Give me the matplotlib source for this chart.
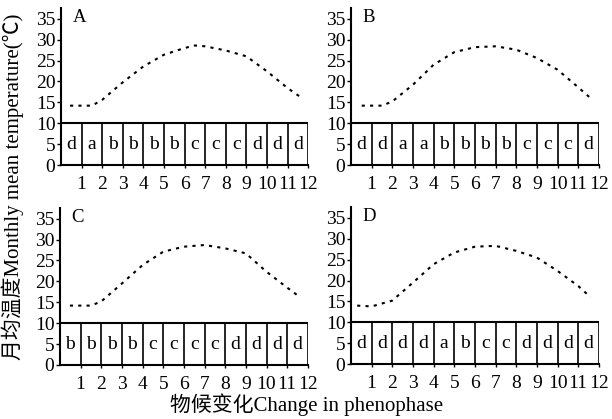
import numpy as np
import matplotlib
matplotlib.use("Agg")
import matplotlib.pyplot as plt

plt.rcParams['font.family'] = ['Liberation Serif', 'Noto Sans CJK SC']

panels = ["A", "B", "C", "D"]

# phenophase letter for each month 1..12
phases = {
    "A": ["d", "a", "b", "b", "b", "b", "c", "c", "c", "d", "d", "d"],
    "B": ["d", "d", "a", "a", "b", "b", "b", "b", "c", "c", "c", "d"],
    "C": ["b", "b", "b", "b", "c", "c", "c", "c", "d", "d", "d", "d"],
    "D": ["d", "d", "d", "d", "a", "b", "c", "c", "d", "d", "d", "d"],
}

# temperature curves
curve_x = {
    "A": [0.44, 1.5, 2, 3, 4, 5, 6, 6.5, 7, 8, 9, 10, 11, 11.7],
    "B": [0.52, 1.5, 2, 3, 4, 5, 6, 7, 8, 9, 10, 11, 11.6],
    "C": [0.48, 1.5, 2, 3, 4, 5, 6, 7, 8, 9, 10, 11, 11.6],
    "D": [0.3, 1, 2, 3, 4, 5, 6, 7, 8, 9, 10, 11, 11.6],
}
curve_y = {
    "A": [14.2, 14.2, 15.6, 19.8, 23.6, 26.4, 28.0, 28.6, 28.4, 27.4, 26.0, 22.4, 18.4, 16.0],
    "B": [14.2, 14.2, 15.2, 19.2, 24.0, 27.0, 28.2, 28.4, 27.6, 25.6, 22.8, 18.6, 16.0],
    "C": [14.2, 14.2, 15.2, 19.5, 23.9, 27.1, 28.3, 28.7, 27.9, 26.7, 22.3, 18.5, 16.3],
    "D": [14.0, 13.8, 15.2, 19.5, 23.9, 26.7, 28.1, 28.3, 27.1, 25.5, 22.3, 18.7, 16.0],
}

months = list(range(1, 13))
yticks = [0, 5, 10, 15, 20, 25, 30, 35]

fig = plt.figure(figsize=(6.12, 4.19), dpi=100)
boxes = {
    "A": [0.0997, 0.6062, 0.404, 0.375],
    "B": [0.5735, 0.6062, 0.405, 0.375],
    "C": [0.0980, 0.1290, 0.405, 0.375],
    "D": [0.5735, 0.1310, 0.405, 0.375],
}

for p in panels:
    ax = fig.add_axes(boxes[p])
    ax.plot(curve_x[p], curve_y[p], color='black', linestyle=(0, (1.5, 2.5)), linewidth=1.5)
    # phenophase cells
    ax.hlines(10, 0, 12, color='black', linewidth=1.5)
    ax.vlines(months, 0, 10, color='black', linewidth=1.2)
    for m, letter in zip(months, phases[p]):
        ax.text(m - 0.5, 5, letter, ha='center', va='center', fontsize=14)
    ax.text(0.55, 35.3, p, ha='left', va='center', fontsize=13.5)
    ax.set_xlim(0, 12)
    ax.set_ylim(0, 37.6)
    ax.set_xticks(months)
    ax.set_xticklabels([str(m) for m in months])
    ax.set_yticks(yticks)
    for s in ["top", "right"]:
        ax.spines[s].set_visible(False)
    ax.spines["left"].set_linewidth(1.5)
    ax.spines["bottom"].set_linewidth(1.5)
    ax.tick_params(axis='y', direction='out', length=3, width=1, labelsize=14, pad=1)
    ax.tick_params(axis='x', direction='out', length=2, width=1, labelsize=14, pad=6)

fig.text(13 / 612, 1 - 187 / 419, "月均温度Monthly mean temperature(℃)", rotation=90,
         ha='center', va='center', fontsize=15)
fig.text(307 / 612, 1 - 405 / 419, "物候变化Change in phenophase", ha='center', va='center', fontsize=15)

fig.savefig("out.png", dpi=100)
